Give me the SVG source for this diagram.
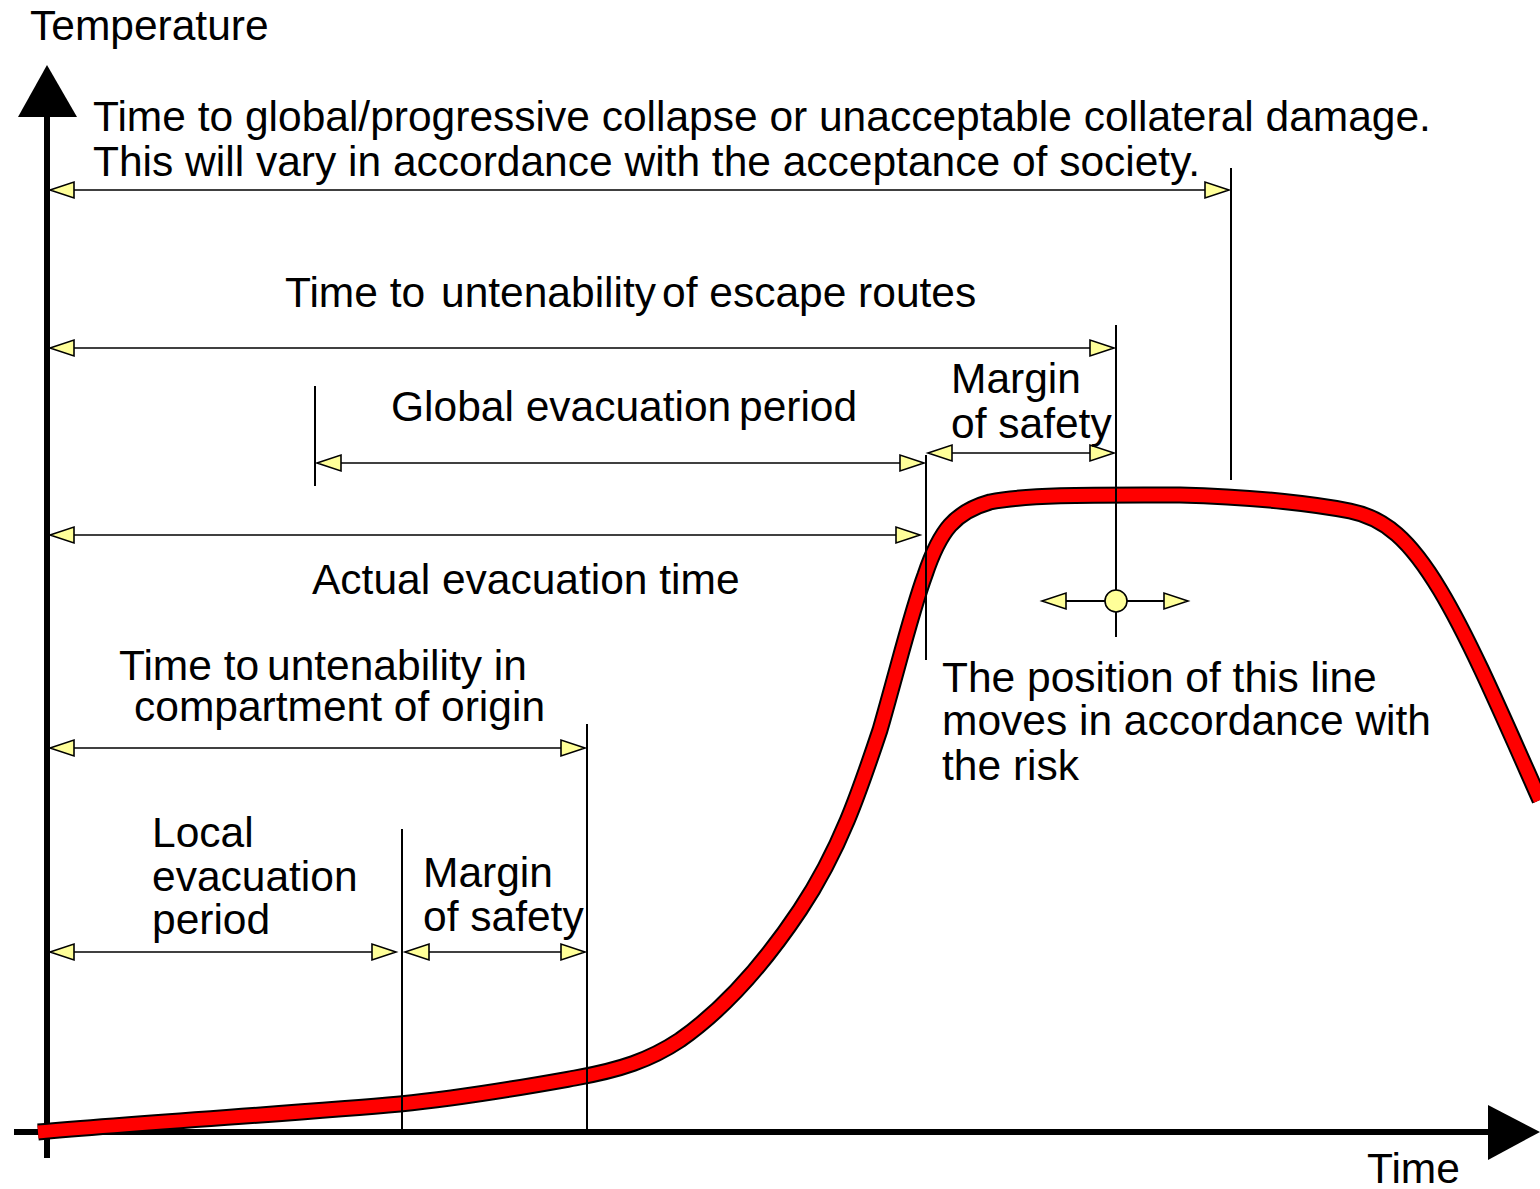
<svg xmlns="http://www.w3.org/2000/svg" width="1540" height="1189" viewBox="0 0 1540 1189">
  <defs>
    <style>
      .lbl { font-family: "Liberation Sans", Arial, sans-serif; font-size: 42.5px; fill: #000; }
      .dim { stroke: #000; stroke-width: 1.6; fill: none; }
      .tick { stroke: #000; stroke-width: 2; fill: none; }
      .head { fill: #ffff99; stroke: #000; stroke-width: 1.6; stroke-linejoin: miter; }
    </style>
    <!-- open-ended yellow arrowheads drawn as separate triangles -->
    <polygon id="hl" class="head" points="0,0 24,-8 24,8"/>
    <polygon id="hr" class="head" points="0,0 -24,-8 -24,8"/>
  </defs>

  <rect width="1540" height="1189" fill="#fff"/>

  <!-- axes -->
  <g id="axes">
    <line x1="47" y1="110" x2="47" y2="1158" stroke="#000" stroke-width="6"/>
    <polygon points="47,65 18,117 77,117" fill="#000"/>
    <line x1="14" y1="1132" x2="1495" y2="1132" stroke="#000" stroke-width="6"/>
    <polygon points="1540,1132 1488,1105 1488,1160" fill="#000"/>
    <text class="lbl" x="30" y="40">Temperature</text>
    <text class="lbl" x="1367" y="1183">Time</text>
  </g>

  <!-- temperature curve -->
  <g id="curve">
    <path id="fire" d="M38,1132 C150,1122 300,1113 400,1104 C470,1097 530,1086 575,1078 C620,1070 650,1060 680,1040 C720,1012 760,970 800,910 C840,850 860,790 880,730 C900,660 912,610 925,575 C940,530 955,512 990,502 C1030,494 1100,495 1180,495 C1260,497 1320,505 1350,511 C1385,518 1410,540 1440,590 C1470,640 1500,710 1540,800"
          fill="none" stroke="#000" stroke-width="17" stroke-linecap="butt"/>
    <path d="M38,1132 C150,1122 300,1113 400,1104 C470,1097 530,1086 575,1078 C620,1070 650,1060 680,1040 C720,1012 760,970 800,910 C840,850 860,790 880,730 C900,660 912,610 925,575 C940,530 955,512 990,502 C1030,494 1100,495 1180,495 C1260,497 1320,505 1350,511 C1385,518 1410,540 1440,590 C1470,640 1500,710 1540,800"
          fill="none" stroke="#ff0000" stroke-width="13" stroke-linecap="butt"/>
  </g>

  <!-- dimension connectors -->
  <g id="connectors">
    <!-- extension ticks -->
    <line class="tick" x1="1231" y1="168" x2="1231" y2="480"/>
    <line class="tick" x1="1116" y1="325" x2="1116" y2="637"/>
    <line class="tick" x1="315" y1="386" x2="315" y2="486"/>
    <line class="tick" x1="926" y1="455" x2="926" y2="660"/>
    <line class="tick" x1="587" y1="724" x2="587" y2="1130"/>
    <line class="tick" x1="402" y1="829" x2="402" y2="1130"/>

    <!-- collapse -->
    <line class="dim" x1="60" y1="190" x2="1220" y2="190"/>
    <use href="#hl" x="50" y="190"/>
    <use href="#hr" x="1229" y="190"/>
    <!-- escape routes -->
    <line class="dim" x1="60" y1="348" x2="1105" y2="348"/>
    <use href="#hl" x="50" y="348"/>
    <use href="#hr" x="1114" y="348"/>
    <!-- global evacuation period -->
    <line class="dim" x1="327" y1="463" x2="915" y2="463"/>
    <use href="#hl" x="317" y="463"/>
    <use href="#hr" x="924" y="463"/>
    <!-- upper margin of safety -->
    <line class="dim" x1="937" y1="453" x2="1105" y2="453"/>
    <use href="#hl" x="928" y="453"/>
    <use href="#hr" x="1114" y="453"/>
    <!-- actual evacuation time -->
    <line class="dim" x1="60" y1="535" x2="910" y2="535"/>
    <use href="#hl" x="50" y="535"/>
    <use href="#hr" x="920" y="535"/>
    <!-- compartment of origin -->
    <line class="dim" x1="60" y1="748" x2="575" y2="748"/>
    <use href="#hl" x="50" y="748"/>
    <use href="#hr" x="585" y="748"/>
    <!-- local evacuation period -->
    <line class="dim" x1="60" y1="952" x2="386" y2="952"/>
    <use href="#hl" x="50" y="952"/>
    <use href="#hr" x="396" y="952"/>
    <!-- lower margin of safety -->
    <line class="dim" x1="415" y1="952" x2="575" y2="952"/>
    <use href="#hl" x="405" y="952"/>
    <use href="#hr" x="585" y="952"/>
    <!-- movable line handle -->
    <line class="tick" x1="1066" y1="601" x2="1166" y2="601"/>
    <use href="#hl" x="1042" y="601"/>
    <use href="#hr" x="1188" y="601"/>
    <circle cx="1116" cy="601" r="11" fill="#ffff99" stroke="#000" stroke-width="1.6"/>
  </g>

  <!-- labels -->
  <g id="labels">
    <text class="lbl" x="93" y="131">Time to global/progressive collapse or unacceptable collateral damage.</text>
    <text class="lbl" x="93" y="176">This will vary in accordance with the acceptance of society.</text>
    <text class="lbl" y="307"><tspan x="285">Time to</tspan><tspan x="441">untenability</tspan><tspan x="662">of escape routes</tspan></text>
    <text class="lbl" y="421"><tspan x="391">Global evacuation</tspan><tspan x="739">period</tspan></text>
    <text class="lbl" x="951" y="393">Margin</text>
    <text class="lbl" x="951" y="438">of safety</text>
    <text class="lbl" x="312" y="594">Actual evacuation time</text>
    <text class="lbl" y="680"><tspan x="119">Time to</tspan><tspan x="267">untenability in</tspan></text>
    <text class="lbl" x="134" y="721">compartment of origin</text>
    <text class="lbl" x="152" y="847">Local</text>
    <text class="lbl" x="152" y="891">evacuation</text>
    <text class="lbl" x="152" y="934">period</text>
    <text class="lbl" x="423" y="887">Margin</text>
    <text class="lbl" x="423" y="931">of safety</text>
    <text class="lbl" x="942" y="692">The position of this line</text>
    <text class="lbl" x="942" y="735">moves in accordance with</text>
    <text class="lbl" x="942" y="780">the risk</text>
  </g>
</svg>
